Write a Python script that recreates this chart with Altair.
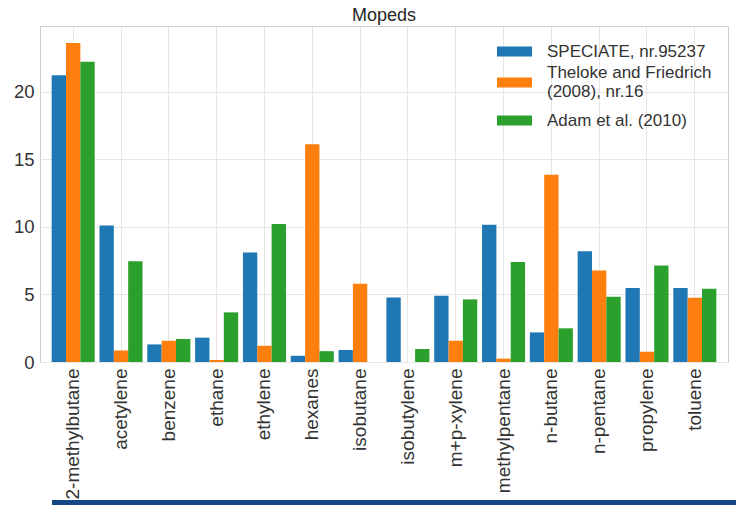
import altair as alt
import pandas as pd

categories = ["2-methylbutane", "acetylene", "benzene", "ethane", "ethylene", "hexanes",
              "isobutane", "isobutylene", "m+p-xylene", "methylpentane", "n-butane",
              "n-pentane", "propylene", "toluene"]
series = ["SPECIATE, nr.95237", "Theloke and Friedrich (2008), nr.16", "Adam et al. (2010)"]
speciate = [21.2, 10.1, 1.3, 1.8, 8.1, 0.46, 0.89, 4.77, 4.9, 10.16, 2.19, 8.2, 5.48, 5.48]
theloke = [23.6, 0.85, 1.57, 0.15, 1.2, 16.1, 5.78, 0.0, 1.57, 0.25, 13.85, 6.77, 0.76, 4.75]
adam = [22.2, 7.45, 1.7, 3.67, 10.2, 0.8, 0.0, 0.96, 4.63, 7.4, 2.49, 4.82, 7.14, 5.41]
colors = ["#1f77b4", "#ff7f0e", "#2ca02c"]
y_ticks = [0, 5, 10, 15, 20]

rows = []
for s, vals in zip(series, [speciate, theloke, adam]):
    for c, v in zip(categories, vals):
        rows.append({"compound": c, "source": s, "value": v})
df = pd.DataFrame(rows)

FONT = "Liberation Sans"
TWO_LINE = series[1]

bars = alt.Chart(df).mark_bar().encode(
    x=alt.X("compound:N", sort=categories,
            scale=alt.Scale(paddingInner=0.10, paddingOuter=0.244),
            axis=alt.Axis(title=None, labelAngle=-90, labelFontSize=19, labelColor="#333333",
                          labelFont=FONT, ticks=False, domain=False, grid=True,
                          gridColor="#e6e6e6", bandPosition=0.5, labelPadding=6)),
    xOffset=alt.XOffset("source:N", sort=series),
    y=alt.Y("value:Q", scale=alt.Scale(domain=[0, 24.85], nice=False),
            axis=alt.Axis(title=None, values=y_ticks, labelFontSize=18.5, labelColor="#333333",
                          labelFont=FONT, ticks=False, domain=False, grid=True,
                          gridColor="#e6e6e6", labelPadding=6)),
    color=alt.Color("source:N", sort=series,
                    scale=alt.Scale(domain=series, range=colors),
                    legend=alt.Legend(
                        title=None, orient="none", legendX=457, legendY=8,
                        symbolType="M-1,-0.2857H1V0.2857H-1Z", symbolSize=1225,
                        symbolStrokeWidth=0, labelFontSize=17, labelFont=FONT,
                        labelColor="#333333", labelOffset=15, rowPadding=3,
                        labelExpr=f"datum.label == '{TWO_LINE}' ? ['Theloke and Friedrich', '(2008), nr.16'] : datum.label",
                        labelBaseline={"expr": f"datum.value == '{TWO_LINE}' ? 'line-bottom' : 'middle'"},
                        labelLimit=400)),
)

band = alt.Chart(pd.DataFrame({"a": [0]})).mark_rect(color="#174785").encode(
    x=alt.value(12), x2=alt.value(704), y=alt.value(474), y2=alt.value(479)
)

chart = alt.layer(bars, band).properties(
    width=688, height=336,
    title=alt.Title("Mopeds", fontSize=18, font=FONT, fontWeight="normal", color="#262626",
                    offset=1),
    autosize=alt.AutoSizeParams(type="none"),
    padding={"left": 32, "top": 18, "right": 8, "bottom": 143},
).configure_view(stroke="#cccccc", strokeWidth=1)

chart.save("out.html", embed_options={"renderer": "svg", "actions": False})
